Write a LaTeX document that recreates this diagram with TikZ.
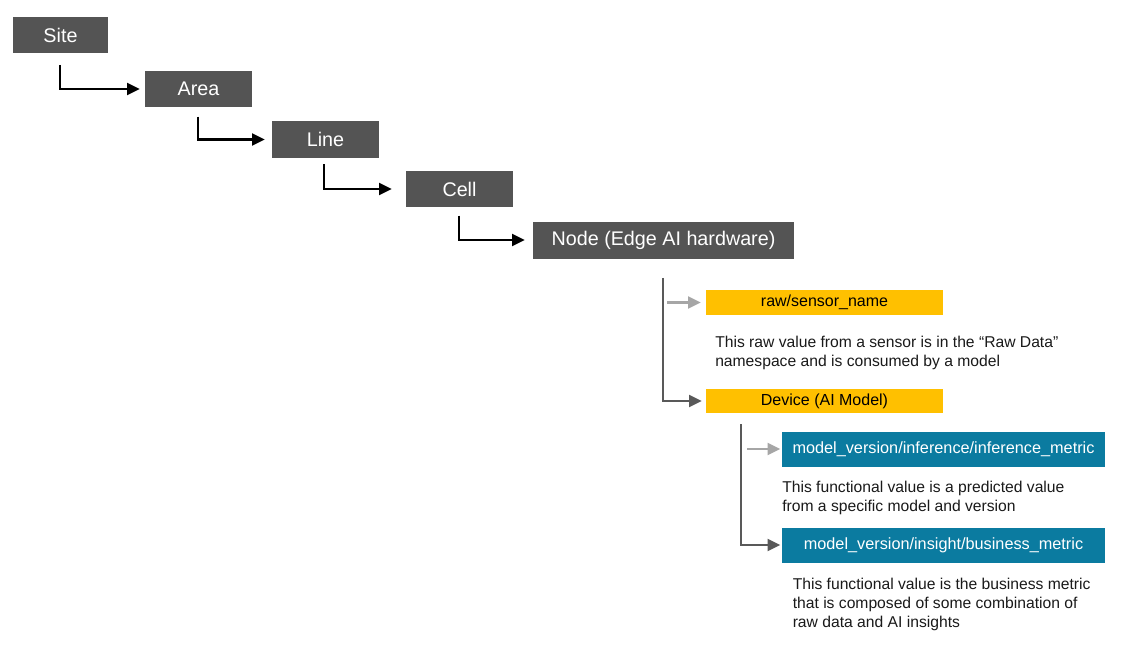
\documentclass[tikz,border=0pt]{standalone}
\usepackage{fontspec}
\setmainfont{Liberation Sans}
\usetikzlibrary{arrows.meta,calc}
\definecolor{boxgray}{HTML}{545454}
\definecolor{boxyellow}{HTML}{FFC000}
\definecolor{boxblue}{HTML}{0B7BA0}
\definecolor{linegray}{HTML}{595959}
\definecolor{lightgray}{HTML}{A6A6A6}
\definecolor{desctext}{HTML}{1A1A1A}
\begin{document}
\begin{tikzpicture}[x=0.75pt,y=-0.75pt,
  darkbox/.style={rectangle,fill=boxgray,text=white,inner sep=0pt,
    minimum width=80.25pt,minimum height=27.4pt,
    font=\fontsize{14.8pt}{17pt}\selectfont},
  yellowbox/.style={rectangle,fill=boxyellow,text=black,inner sep=0pt,
    minimum width=177.75pt,minimum height=18.4pt,
    font=\fontsize{12pt}{14pt}\selectfont},
  bluebox/.style={rectangle,fill=boxblue,text=white,inner sep=0pt,
    minimum width=242.25pt,minimum height=26.25pt,
    font=\fontsize{12.2pt}{14pt}\selectfont},
  desc/.style={inner sep=0pt,anchor=north west,align=left,text=desctext,
    font=\fontsize{11.75pt}{14.25pt}\selectfont},
  tip/.style={-{Triangle[length=9.5pt,width=9pt]}},
  blackarrow/.style={draw=black,line width=1.6pt,tip},
  grayarrow/.style={draw=linegray,line width=1.6pt,tip},
  lightarrow/.style={draw=lightgray,line width=1.6pt,tip}
]
\useasboundingbox (0,0) rectangle (1127,663);
\fill[white] (0,0) rectangle (1127,663);

% hierarchy boxes
\node[darkbox,minimum width=71.25pt,minimum height=27pt] (site) at (60.5,35.5) {Site};
\node[darkbox] (area) at (198.5,89) {Area};
\node[darkbox] (line) at (325.5,139.5) {Line};
\node[darkbox] (cell) at (459.5,189) {Cell};
\node[darkbox,minimum width=195.75pt,minimum height=27.75pt] (edge) at (663.5,240) {Node (Edge AI hardware)};

\node[yellowbox] (raw) at (824.5,302.5) {raw/sensor\_name};
\node[yellowbox] (device) at (824.5,401) {Device (AI Model)};
\node[bluebox] (infer) at (943.5,449) {model\_version/inference/inference\_metric};
\node[bluebox] (busi) at (943.5,545) {model\_version/insight/business\_metric};

% descriptions
\node[desc] (d1) at (715,335.5) {This raw value from a sensor is in the “Raw Data”\\namespace and is consumed by a model};
\node[desc] (d2) at (782,480.5) {This functional value is a predicted value\\from a specific model and version};
\node[desc] (d3) at (792.5,578) {This functional value is the business metric\\that is composed of some combination of\\raw data and AI insights};

% connector start points
\coordinate (s1) at ($(site.south)+(-0.5,11)$);
\coordinate (s2) at ($(area.south)+(-0.5,9)$);
\coordinate (s3) at ($(line.south)+(-1.5,6)$);
\coordinate (s4) at ($(cell.south)+(-0.5,8)$);
\coordinate (s5) at ($(edge.south)+(-0.5,19)$);
\coordinate (s6) at (741,424);

\draw[blackarrow,shorten >=3.75pt] (s1) |- (area.west);
\draw[blackarrow,shorten >=5.25pt] (s2) |- (line.west);
\draw[blackarrow,shorten >=10.5pt] (s3) |- (cell.west);
\draw[blackarrow,shorten >=6pt] (s4) |- (edge.west);

\draw[grayarrow,shorten >=3pt] (s5) |- (device.west);
\draw[lightarrow,shorten >=3.75pt] ($(s5 |- raw.west)+(4,0)$) -- (raw.west);
\draw[grayarrow,shorten >=1.1pt] (s6) |- (busi.west);
\draw[lightarrow,shorten >=1.1pt] ($(s6 |- infer.west)+(6,0)$) -- (infer.west);
\end{tikzpicture}
\end{document}
